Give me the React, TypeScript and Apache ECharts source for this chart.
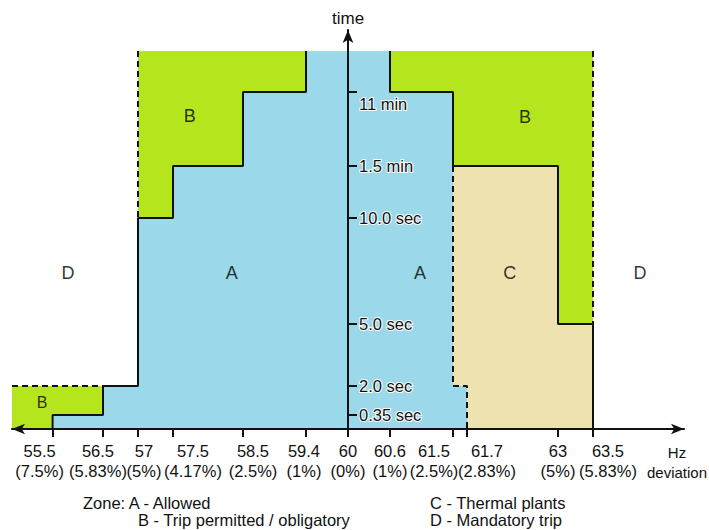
import React, { useEffect, useRef } from 'react';
import * as echarts from 'echarts';

// ---------- data ----------
const hzTicks = [55.5, 56.5, 57, 57.5, 58.5, 59.4, 60, 60.6, 61.5, 61.7, 63, 63.5];
const deviationLabels = ['(7.5%)', '(5.83%)', '(5%)', '(4.17%)', '(2.5%)', '(1%)', '(0%)', '(1%)', '(2.5%)', '(2.83%)', '(5%)', '(5.83%)'];
const timeTicks = ['0.35 sec', '2.0 sec', '5.0 sec', '10.0 sec', '1.5 min', '11 min'];
// schematic (non-linear) levels of each time mark along the time axis
const timeLevels = [14, 43, 105, 211, 263, 337];
const topLevel = 378;

// zone outlines as [Hz, time mark]
const zoneA = [[57, 'top'], [60.6, 'top'], [60.6, '11 min'], [61.5, '11 min'], [61.5, '2.0 sec'], [61.7, '2.0 sec'], [61.7, '0'], [55.5, '0'], [55.5, '0.35 sec'], [56.5, '0.35 sec'], [56.5, '2.0 sec'], [57, '2.0 sec']];
const zoneBLeft = [[57, 'top'], [59.4, 'top'], [59.4, '11 min'], [58.5, '11 min'], [58.5, '1.5 min'], [57.5, '1.5 min'], [57.5, '10.0 sec'], [57, '10.0 sec']];
const zoneBRight = [[60.6, 'top'], [63.5, 'top'], [63.5, '5.0 sec'], [63, '5.0 sec'], [63, '1.5 min'], [61.5, '1.5 min'], [61.5, '11 min'], [60.6, '11 min']];
const zoneBLow = [['edge', '2.0 sec'], [56.5, '2.0 sec'], [56.5, '0.35 sec'], [55.5, '0.35 sec'], [55.5, '0'], ['edge', '0']];
const zoneC = [[61.5, '1.5 min'], [63, '1.5 min'], [63, '5.0 sec'], [63.5, '5.0 sec'], [63.5, '0'], [61.7, '0'], [61.7, '2.0 sec'], [61.5, '2.0 sec']];

// boundary lines
const solidLeft = [[59.4, 'top'], [59.4, '11 min'], [58.5, '11 min'], [58.5, '1.5 min'], [57.5, '1.5 min'], [57.5, '10.0 sec'], [57, '10.0 sec'], [57, '2.0 sec'], [56.5, '2.0 sec'], [56.5, '0.35 sec'], [55.5, '0.35 sec'], [55.5, '0']];
const dashedLeftTop = [[57, 'top'], [57, '10.0 sec']];
const dashedLeftLow = [['edge', '2.0 sec'], [56.5, '2.0 sec']];
const solidRight = [[60.6, 'top'], [60.6, '11 min'], [61.5, '11 min'], [61.5, '1.5 min'], [63, '1.5 min'], [63, '5.0 sec'], [63.5, '5.0 sec'], [63.5, '0']];
const dashedRightC = [[61.5, '1.5 min'], [61.5, '2.0 sec'], [61.7, '2.0 sec'], [61.7, '0']];
const dashedRightTop = [[63.5, 'top'], [63.5, '5.0 sec']];

// ---------- layout ----------
const X_MIN = -4.8;
const X_MAX = 4.8;
const Y_MAX = 399;
const PX_PER_HZ = 70;
const GRID_LEFT = 12;
// horizontal nudges (px) of the tick labels, as in the source drawing
const labelNudgePx = [-13, -5, 6, 20, 10, -2, 0, 0, -19, 20, 0, 15];

const FONT = "'Liberation Sans', Arial, sans-serif";
const TEXT = '#111111';
const BLUE = '#9bd9ea';
const GREEN = '#b5e61d';
const BEIGE = '#eee2b1';

function xPos(hz: number | string): number {
  if (hz === 'edge') return X_MIN;
  const h = hz as number;
  // the axis is compressed below 56.5 Hz in the source drawing
  return h < 56.5 ? -3.5 - (56.5 - h) * 0.72 : h - 60;
}
function yPos(t: string): number {
  if (t === '0') return 0;
  if (t === 'top') return topLevel;
  return timeLevels[timeTicks.indexOf(t)];
}
const toXY = (pts: any[]) => pts.map(([h, t]) => [xPos(h), yPos(t)]);

export default function App() {
  const ref = useRef<HTMLDivElement>(null);
  useEffect(() => {
    if (!ref.current) return;
    const chart = echarts.init(ref.current, undefined, { renderer: 'svg' });

    const zones = [
      { pts: zoneA, color: BLUE },
      { pts: zoneBLeft, color: GREEN },
      { pts: zoneBRight, color: GREEN },
      { pts: zoneBLow, color: GREEN },
      { pts: zoneC, color: BEIGE },
    ];
    const tickVals = hzTicks.map((h) => xPos(h));
    const labelVals = hzTicks.map((h, i) => xPos(h) + labelNudgePx[i] / PX_PER_HZ);

    const lines = [
      { pts: solidLeft, dash: false },
      { pts: dashedLeftTop, dash: true },
      { pts: dashedLeftLow, dash: true },
      { pts: solidRight, dash: false },
      { pts: dashedRightC, dash: true },
      { pts: dashedRightTop, dash: true },
    ];

    const zoneLetters = [
      { x: -4.0, y: 156, t: 'D', s: 18 },
      { x: -1.66, y: 156, t: 'A', s: 18 },
      { x: 1.03, y: 156, t: 'A', s: 18 },
      { x: 2.31, y: 156, t: 'C', s: 18 },
      { x: 4.17, y: 156, t: 'D', s: 18 },
      { x: -2.26, y: 313, t: 'B', s: 18 },
      { x: 2.53, y: 312, t: 'B', s: 18 },
      { x: -4.37, y: 27, t: 'B', s: 16 },
    ];

    const legendFont = `16.5px ${FONT}`;

    const option: any = {
      animation: false,
      grid: { left: GRID_LEFT, right: 25, top: 30, bottom: 101, outerBoundsMode: 'none' },
      xAxis: {
        type: 'value',
        min: X_MIN,
        max: X_MAX,
        z: 10,
        splitLine: { show: false },
        axisLine: {
          show: true,
          onZero: false,
          symbol: ['arrow', 'arrow'],
          symbolSize: [8, 13],
          lineStyle: { color: '#111', width: 2 },
        },
        axisTick: {
          show: true,
          customValues: tickVals,
          length: 8,
          lineStyle: { color: '#111', width: 2 },
        },
        axisLabel: {
          show: true,
          customValues: labelVals,
          margin: 12,
          fontFamily: FONT,
          fontSize: 16.5,
          lineHeight: 20,
          color: TEXT,
          formatter: (v: number) => {
            const i = labelVals.findIndex((l) => Math.abs(l - v) < 1e-6);
            return i < 0 ? '' : `${hzTicks[i]}\n${deviationLabels[i]}`;
          },
        },
      },
      yAxis: {
        type: 'value',
        min: 0,
        max: Y_MAX,
        z: 10,
        position: 'left',
        // place the time axis at 60 Hz (0 deviation)
        offset: -(0 - X_MIN) * PX_PER_HZ,
        splitLine: { show: false },
        axisLine: {
          show: true,
          onZero: false,
          symbol: ['none', 'arrow'],
          symbolSize: [8, 13],
          lineStyle: { color: '#111', width: 2 },
        },
        axisTick: {
          show: true,
          inside: true,
          customValues: timeLevels,
          length: 9,
          lineStyle: { color: '#111', width: 2 },
        },
        axisLabel: {
          show: true,
          inside: true,
          customValues: timeLevels,
          margin: 11,
          fontFamily: FONT,
          fontSize: 16.5,
          color: TEXT,
          formatter: (v: number) => {
            const i = timeLevels.findIndex((l) => Math.abs(l - v) < 1e-6);
            if (i < 0) return '';
            return i === timeLevels.length - 1 ? `{low|${timeTicks[i]}}` : `{n|${timeTicks[i]}}`;
          },
          rich: {
            n: { fontFamily: FONT, fontSize: 16.5, color: TEXT, textBorderColor: '#fff', textBorderWidth: 2 },
            low: { fontFamily: FONT, fontSize: 16.5, color: TEXT, textBorderColor: '#fff', textBorderWidth: 2, padding: [24, 0, 0, 0] },
          },
        },
      },
      series: [
        {
          type: 'custom',
          coordinateSystem: 'cartesian2d',
          silent: true,
          clip: false,
          z: 1,
          data: zones.map((_, i) => [0, 0, i]),
          renderItem: (params: any, api: any) => {
            const zn = zones[params.dataIndex];
            return {
              type: 'polygon',
              shape: { points: toXY(zn.pts).map((p) => api.coord(p)) },
              style: { fill: zn.color, stroke: null },
            };
          },
        },
        ...lines.map((l) => ({
          type: 'line',
          silent: true,
          z: 3,
          symbol: 'none',
          data: toXY(l.pts),
          lineStyle: { color: '#111', width: 2, type: l.dash ? [6, 4] : 'solid' },
        })),
        {
          type: 'scatter',
          silent: true,
          z: 5,
          symbolSize: 0,
          data: zoneLetters.map((d) => ({
            value: [d.x, d.y],
            label: {
              show: true,
              position: 'inside',
              formatter: d.t,
              fontFamily: FONT,
              fontSize: d.s,
              color: '#000',
              textBorderWidth: 0,
            },
          })),
        },
      ],
      graphic: [
        { type: 'text', left: 332, top: 10, style: { text: 'time', font: `17px ${FONT}`, fill: TEXT } },
        { type: 'text', x: 677, y: 452, style: { text: 'Hz', font: `15px ${FONT}`, fill: TEXT, align: 'center', verticalAlign: 'middle' } },
        { type: 'text', x: 647, y: 472, style: { text: 'deviation', font: `15px ${FONT}`, fill: TEXT, align: 'left', verticalAlign: 'middle' } },
        { type: 'text', x: 83, y: 503, style: { text: 'Zone: A - Allowed', font: legendFont, fill: TEXT, align: 'left', verticalAlign: 'middle' } },
        { type: 'text', x: 138, y: 520, style: { text: 'B - Trip permitted / obligatory', font: legendFont, fill: TEXT, align: 'left', verticalAlign: 'middle' } },
        { type: 'text', x: 430, y: 503, style: { text: 'C - Thermal plants', font: legendFont, fill: TEXT, align: 'left', verticalAlign: 'middle' } },
        { type: 'text', x: 430, y: 520, style: { text: 'D - Mandatory trip', font: legendFont, fill: TEXT, align: 'left', verticalAlign: 'middle' } },
      ],
    };
    chart.setOption(option);
    return () => chart.dispose();
  }, []);
  return (
    <div
      ref={ref}
      style={{ position: 'absolute', left: 0, top: 0, width: 709, height: 530, background: '#fff' }}
    />
  );
}
